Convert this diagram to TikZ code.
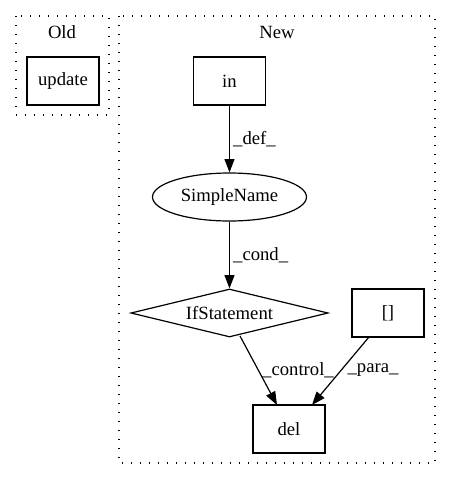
\documentclass[tikz,border=0pt]{standalone}
\usepackage{fontspec}
\setmainfont{Liberation Serif}
\usetikzlibrary{shapes.geometric,arrows.meta}
\begin{document}
\begin{tikzpicture}[x=0.75pt,y=-0.75pt,
  every node/.style={font=\fontsize{14}{16}\selectfont},
  cluster/.style={draw,line width=1pt,dash pattern=on 1pt off 5.75pt},
  boxnode/.style={draw,rectangle,minimum width=54pt,minimum height=36pt,inner sep=0pt,line width=0.9pt},
  ellnode/.style={draw,ellipse,minimum width=115.5pt,minimum height=36pt,inner sep=0pt,line width=0.9pt},
  dianode/.style={draw,diamond,aspect=4.1,minimum width=148pt,minimum height=36pt,inner sep=0pt,line width=0.9pt},
  edge/.style={draw,line width=0.9pt,-{Triangle[length=10pt,width=7.5pt]}},
  elabel/.style={font=\fontsize{14}{16}\selectfont}]
\useasboundingbox (0,0) rectangle (451,480);
\draw[cluster] (16,16) rectangle (109,115);
\node (oldlbl) at (62,32) {Old};
\draw[cluster] (119,16) rectangle (435,463);
\node (newlbl) at (277,32) {New};
\node[boxnode] (update) at (63,81) {update};
\node[boxnode] (in) at (229.5,81) {in};
\node[ellnode] (sn) at (229.5,197) {SimpleName};
\node[dianode] (if) at (229.5,313) {IfStatement};
\node[boxnode] (br) at (388,313) {[]};
\node[boxnode] (del) at (289,429) {del};
\draw[edge] (in) -- (sn) node[midway,right=-1pt,elabel] {\_def\_};
\draw[edge] (sn) -- (if) node[midway,right=-1pt,elabel] {\_cond\_};
\draw[edge] (240,336) -- (277,405);
\node[elabel] (lc) at (298,370) {\_control\_};
\draw[edge] (369,337) -- (312,405);
\node[elabel] (lp) at (373,370) {\_para\_};
\end{tikzpicture}
\end{document}
